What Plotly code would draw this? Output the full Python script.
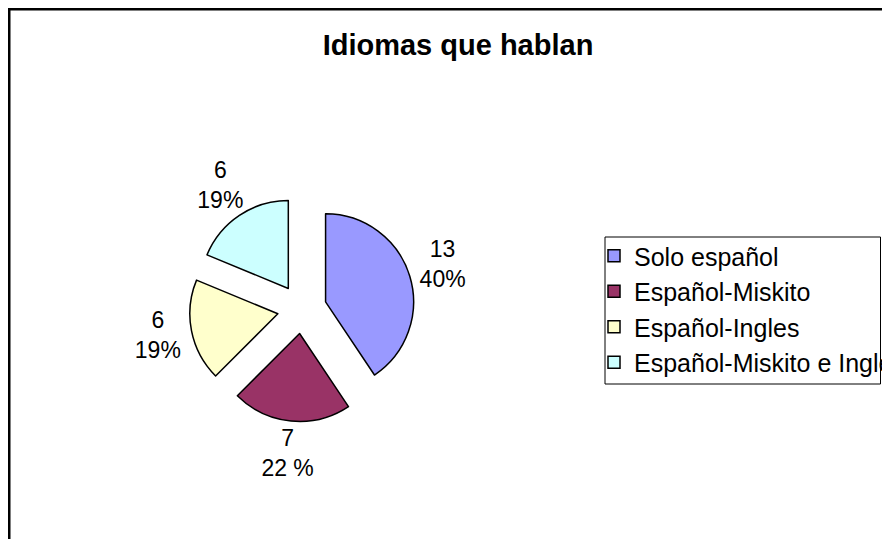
import numpy as np
import plotly.graph_objects as go

# ---- data ----
categories = ["Solo español", "Español-Miskito", "Español-Ingles", "Español-Miskito e Ingles"]
counts = [13, 7, 6, 6]
label_texts = ["13<br>40%", "7<br>22 %", "6<br>19%", "6<br>19%"]
colors = ["#9999FF", "#993366", "#FFFFCC", "#CCFFFF"]
title_text = "Idiomas que hablan"

# ---- layout geometry (pixels inside the plot div; page adds 8px body margin) ----
W, H = 882, 531
pull = 0.28
cx_px, cy_px = 294, 301
r_px = 88
label_r = 1.67  # label distance from pie centre, in pie radii
D = 2 * r_px * (1 + pull)

pie_dom_x = [(cx_px - D / 2) / W, (cx_px + D / 2) / W]
pie_dom_y = [1 - (cy_px + D / 2) / H, 1 - (cy_px - D / 2) / H]

# axes for label positions, 1 unit = r_px pixels
A = 2.0
ax_dom_x = [(cx_px - A * r_px) / W, (cx_px + A * r_px) / W]
ax_dom_y = [1 - (cy_px + A * r_px) / H, 1 - (cy_px - A * r_px) / H]

vals = np.array(counts, dtype=float)
cum = np.cumsum(vals) - vals / 2
mid_deg = cum / vals.sum() * 360.0
lx = label_r * np.sin(np.radians(mid_deg))
ly = label_r * np.cos(np.radians(mid_deg))

font_family = "Liberation Sans, Arial, sans-serif"

fig = go.Figure()
fig.add_trace(go.Pie(
    labels=categories,
    values=counts,
    sort=False,
    direction="clockwise",
    rotation=0,
    pull=[pull] * len(counts),
    marker=dict(colors=colors, line=dict(color="black", width=1.5)),
    textinfo="none",
    domain=dict(x=pie_dom_x, y=pie_dom_y),
    hoverinfo="label+value+percent",
))
fig.add_trace(go.Scatter(
    x=lx, y=ly,
    mode="text",
    text=label_texts,
    textposition="middle center",
    textfont=dict(family=font_family, size=23, color="black"),
    cliponaxis=False,
    showlegend=False,
    hoverinfo="skip",
))

# legend box (plot-div pixels)
box_left, box_top, box_right, box_bottom = 597, 229, 872.5, 376
leg_x_px, leg_y_px = 586, 225

fig.update_layout(
    width=W, height=H,
    margin=dict(l=0, r=0, t=0, b=0, autoexpand=False),
    paper_bgcolor="white",
    plot_bgcolor="rgba(0,0,0,0)",
    title=dict(
        text="<b>" + title_text + "</b>",
        x=450 / W, xanchor="center",
        y=1 - 37 / H, yanchor="middle",
        yref="container", xref="container",
        font=dict(family=font_family, size=29, color="black"),
    ),
    xaxis=dict(domain=ax_dom_x, range=[-A, A], visible=False, fixedrange=True),
    yaxis=dict(domain=ax_dom_y, range=[-A, A], visible=False, fixedrange=True),
    legend=dict(
        x=leg_x_px / W, xanchor="left",
        y=1 - leg_y_px / H, yanchor="top",
        borderwidth=0,
        bgcolor="rgba(0,0,0,0)",
        font=dict(family=font_family, size=25, color="black"),
        itemwidth=30,
        traceorder="normal",
    ),
    shapes=[
        dict(type="rect", xref="paper", yref="paper",
             x0=1.25 / W, x1=1.2, y0=-0.2, y1=1 - 1.25 / H,
             line=dict(color="black", width=2.5), fillcolor="rgba(0,0,0,0)", layer="above"),
        dict(type="rect", xref="paper", yref="paper",
             x0=box_left / W, x1=box_right / W,
             y0=1 - box_bottom / H, y1=1 - box_top / H,
             line=dict(color="black", width=1), fillcolor="rgba(0,0,0,0)", layer="above"),
    ],
)

fig.write_html("out.html")
